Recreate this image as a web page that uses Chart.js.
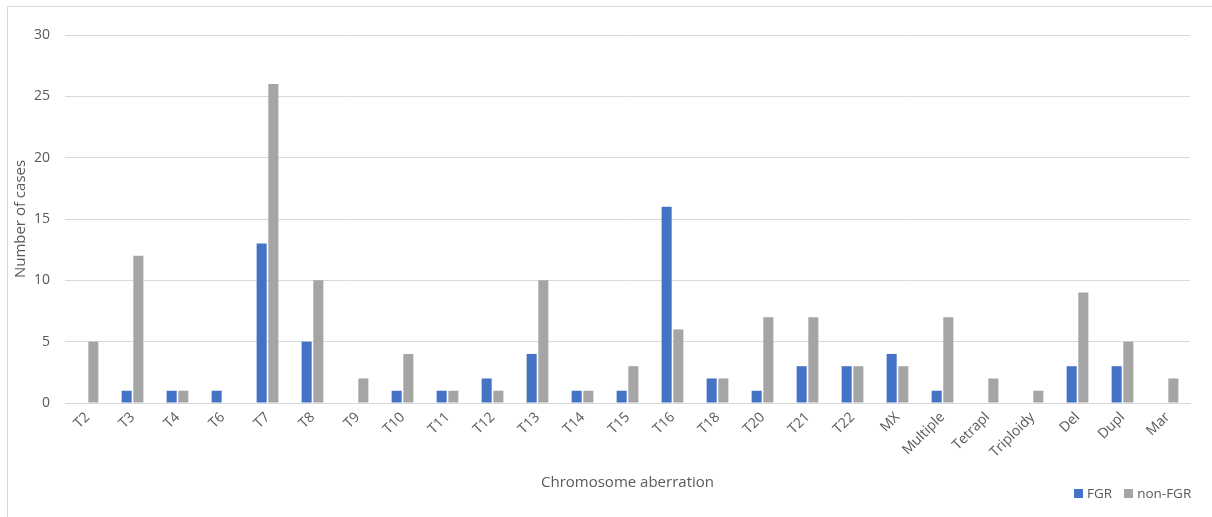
<!DOCTYPE html>
<html>
<head>
<meta charset="utf-8">
<script src="https://cdn.jsdelivr.net/npm/chart.js@4.4.1/dist/chart.umd.min.js"></script>
<style>
  html, body { margin: 0; padding: 0; background: #fff; }
  #wrap { position: relative; width: 1212px; height: 517px; overflow: hidden; }
  #frame { position: absolute; left: 7px; top: 6px; width: 1230px; height: 530px; border: 1px solid #d9d9d9; box-sizing: border-box; }
  canvas { position: absolute; left: 0; top: 0; }
  #legend { position: absolute; top: 484px; left: 1074px; font-family: 'Open Sans', sans-serif; font-size: 13.5px; color: #595959; display: flex; gap: 12px; white-space: nowrap; }
  #legend span.item { display: flex; align-items: center; }
  #legend span.box { display: inline-block; width: 9px; height: 9px; margin-right: 4px; }
</style>
</head>
<body>
<div id="wrap">
  <div id="frame"></div>
  <canvas id="c" width="1212" height="517"></canvas>
  <div id="legend"></div>
</div>
<script>
const categories = ['T2','T3','T4','T6','T7','T8','T9','T10','T11','T12','T13','T14','T15','T16','T18','T20','T21','T22','MX','Multiple','Tetrapl','Triploidy','Del','Dupl','Mar'];
const fgr    = [0, 1, 1, 1, 13, 5, 0, 1, 1, 2, 4, 1, 1, 16, 2, 1, 3, 3, 4, 1, 0, 0, 3, 3, 0];
const nonFgr = [5, 12, 1, 0, 26, 10, 2, 4, 1, 1, 10, 1, 3, 6, 2, 7, 7, 3, 3, 7, 2, 1, 9, 5, 2];
const yTicks = [0, 5, 10, 15, 20, 25, 30];

const textColor = '#595959';
const font = { family: "'Open Sans', sans-serif", size: 14 };
const titleFont = { family: "'Open Sans', sans-serif", size: 15 };

const chart = new Chart(document.getElementById('c'), {
  type: 'bar',
  data: {
    labels: categories,
    datasets: [
      { label: 'FGR', data: fgr, backgroundColor: '#4472C4' },
      { label: 'non-FGR', data: nonFgr, backgroundColor: '#A5A5A5' }
    ]
  },
  options: {
    responsive: false,
    animation: false,
    datasets: { bar: { categoryPercentage: 0.52, barPercentage: 0.86 } },
    layout: { padding: { left: 12, right: 22, top: 35, bottom: 0 } },
    plugins: { legend: { display: false }, tooltip: { enabled: false } },
    scales: {
      x: {
        grid: { display: false, drawTicks: false },
        border: { color: '#d9d9d9', width: 1 },
        ticks: { color: textColor, font, minRotation: 45, maxRotation: 45, padding: 6, autoSkip: false },
        title: { display: true, text: 'Chromosome aberration', color: textColor, font: titleFont, padding: { top: 0, bottom: 25 } },
        afterFit(scale) { scale.height = 114; }
      },
      y: {
        min: 0, max: 30,
        grid: { color: '#d9d9d9', drawTicks: false },
        border: { display: false },
        afterBuildTicks(scale) { scale.ticks = yTicks.map(v => ({ value: v })); },
        ticks: { color: textColor, font, padding: 15 },
        title: { display: true, text: 'Number of cases', color: textColor, font: titleFont, padding: { top: 0, bottom: 0 } },
        afterFit(scale) { scale.width = 53; }
      }
    }
  }
});

const legend = document.getElementById('legend');
chart.data.datasets.forEach(ds => {
  const item = document.createElement('span');
  item.className = 'item';
  const box = document.createElement('span');
  box.className = 'box';
  box.style.background = ds.backgroundColor;
  item.appendChild(box);
  item.appendChild(document.createTextNode(ds.label));
  legend.appendChild(item);
});
</script>
</body>
</html>
